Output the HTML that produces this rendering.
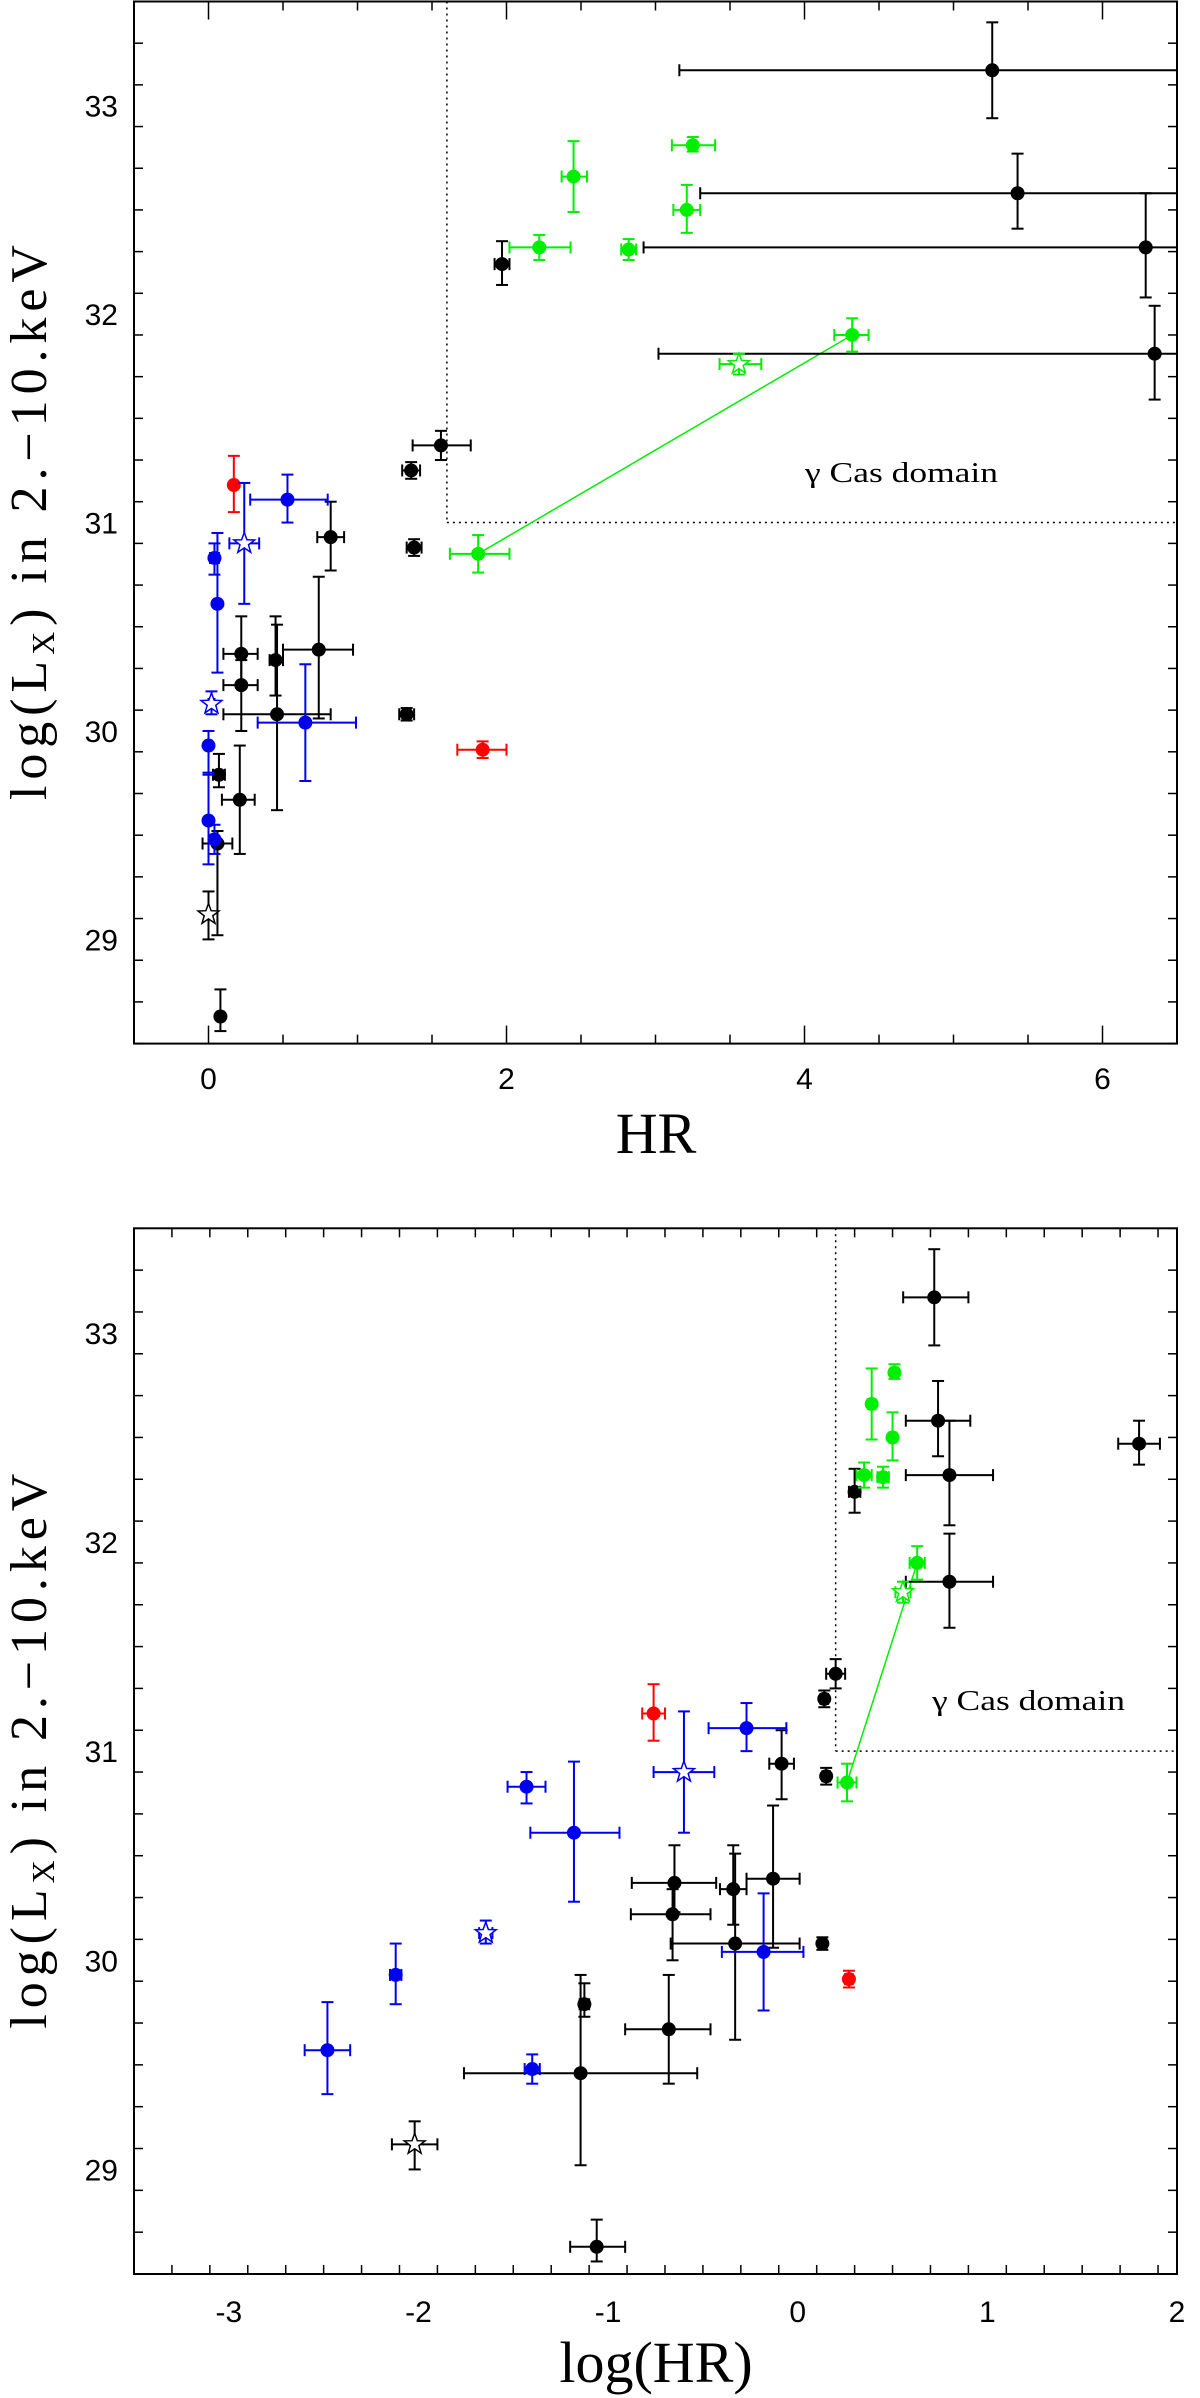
<!DOCTYPE html>
<html><head><meta charset="utf-8"><style>
html,body{margin:0;padding:0;background:#fff}
svg{display:block}
</style></head><body>
<svg id="fig" width="1200" height="2398" viewBox="0 0 1200 2398" xmlns="http://www.w3.org/2000/svg">
<g id="p1"></g>
<g id="p2"></g>
</svg>
<script>
// ---------- TOP PANEL DATA (HR vs log Lx) ----------
const topX    = [5.26,5.43,6.29,6.35,1.97,1.56,1.36,1.38,0.82,0.22,0.22,0.45,0.74,0.46,1.33,0.07,0.21,0.06,0.08,0.00, 0.17,1.84, 0.53,0.04,0.06,0.65,0.00,0.00,0.04,0.24,0.02, 3.25,2.45,3.21,2.22,2.82,4.32,3.56,1.81];
const topY    = [33.17,32.58,32.32,31.81,32.24,31.37,31.25,30.88,30.93,30.37,30.22,30.34,30.39,30.08,30.08,29.79,29.67,29.46,28.63,29.12, 31.18,29.91, 31.11,30.83,30.61,30.04,29.93,29.57,29.48,30.90,30.13, 32.81,32.66,32.50,32.32,32.31,31.90,31.76,30.85];
const topXlo  = [3.16,3.30,2.92,3.02,1.92,1.37,1.30,1.33,0.73,0.10,0.10,0.41,0.50,0.10,1.28,0.03,0.09,-0.04,0.06,0.00, 0.17,1.67, 0.28,0.01,0.04,0.33,0.00,0.00,0.02,0.14,0.00, 3.11,2.37,3.12,2.02,2.77,4.20,3.43,1.62];
const topXhi  = [7.5,7.5,7.5,7.5,2.02,1.76,1.42,1.43,0.91,0.33,0.33,0.50,0.97,0.82,1.38,0.11,0.31,0.16,0.10,0.00, 0.17,2.00, 0.80,0.07,0.08,0.99,0.00,0.00,0.06,0.34,0.04, 3.40,2.54,3.30,2.43,2.87,4.43,3.71,2.02];
const topYlo  = [32.94,32.41,32.08,31.59,32.14,31.30,31.21,30.84,30.77,30.23,30.00,30.17,30.06,29.62,30.05,29.73,29.41,29.02,28.56,29.00, 31.05,29.87, 31.00,30.75,30.28,29.76,29.79,29.36,29.41,30.61,30.08, 32.78,32.49,32.39,32.26,32.26,31.82,31.71,30.76];
const topYhi  = [33.40,32.77,32.58,32.04,32.35,31.44,31.29,30.92,31.10,30.55,30.34,30.55,30.74,30.51,30.11,29.89,29.93,29.52,28.76,29.23, 31.32,29.95, 31.23,30.90,30.95,30.32,30.00,29.80,29.55,31.19,30.19, 32.85,32.83,32.62,32.38,32.36,31.98,31.81,30.94];
const topColor= ["k","k","k","k","k","k","k","k","k","k","k","k","k","k","k","k","k","k","k","k", "r","r", "b","b","b","b","b","b","b","b","b", "g","g","g","g","g","g","g","g"];
const topMark = ["o","o","o","o","o","o","o","o","o","o","o","o","o","o","o","o","o","o","o","s", "o","o", "o","o","o","o","o","o","o","s","s", "o","o","o","o","o","o","s","o"];
const topLink = [38,36];

// ---------- BOTTOM PANEL DATA (log HR vs log Lx) ----------
const botX    = [0.72,0.74,0.80,0.80,1.80,0.30,0.20,0.14,0.15,-0.085,-0.65,-0.66,-0.34,-0.13,-0.33,0.13,-1.125,-0.68,-1.145,-1.06,-2.02, -0.76,0.27, -0.27,-1.43,-1.18,-0.18,-2.12,-2.48,-1.40,-0.60,-1.645, 0.51,0.39,0.50,0.35,0.45,0.63,0.555,0.26];
const botY    = [33.17,32.58,32.32,31.81,32.47,32.24,31.37,31.25,30.88,30.94,30.37,30.22,30.34,30.39,30.08,30.08,29.79,29.67,29.46,28.63,29.12, 31.18,29.91, 31.11,30.83,30.61,30.04,29.93,29.57,29.48,30.90,30.13, 32.81,32.66,32.50,32.32,32.31,31.90,31.76,30.85];
const botXlo  = [0.556,0.57,0.57,0.57,1.69,0.27,0.15,0.12,0.13,-0.15,-0.875,-0.88,-0.41,-0.27,-0.67,0.11,-1.15,-0.91,-1.76,-1.20,-2.14, -0.82,0.25, -0.47,-1.53,-1.41,-0.40,-2.15,-2.60,-1.44,-0.76,-1.68, 0.49,0.37,0.48,0.31,0.42,0.59,0.515,0.21];
const botXhi  = [0.90,0.91,1.03,1.03,1.91,0.33,0.25,0.16,0.17,-0.02,-0.43,-0.46,-0.27,0.01,0.01,0.15,-1.10,-0.46,-0.53,-0.91,-1.90, -0.70,0.29, -0.06,-1.33,-0.94,0.03,-2.09,-2.36,-1.36,-0.44,-1.61, 0.53,0.41,0.52,0.39,0.48,0.67,0.595,0.31];
const botYlo  = [32.94,32.41,32.08,31.59,32.37,32.14,31.30,31.21,30.84,30.77,30.23,30.00,30.17,30.06,29.62,30.05,29.73,29.41,29.02,28.56,29.00, 31.05,29.87, 31.00,30.75,30.28,29.76,29.79,29.36,29.41,30.61,30.08, 32.78,32.49,32.39,32.26,32.26,31.82,31.71,30.76];
const botYhi  = [33.40,32.77,32.58,32.04,32.58,32.35,31.44,31.29,30.92,31.10,30.55,30.34,30.55,30.74,30.51,30.11,29.89,29.93,29.93,28.76,29.23, 31.32,29.95, 31.23,30.90,30.95,30.32,30.08,29.80,29.55,31.19,30.19, 32.85,32.83,32.62,32.38,32.36,31.98,31.81,30.94];
const botColor= ["k","k","k","k","k","k","k","k","k","k","k","k","k","k","k","k","k","k","k","k","k", "r","r", "b","b","b","b","b","b","b","b","b", "g","g","g","g","g","g","g","g"];
const botMark = ["o","o","o","o","o","o","o","o","o","o","o","o","o","o","o","o","o","o","o","o","s", "o","o", "o","o","o","o","o","o","o","s","s", "o","o","o","o","o","o","s","o"];
const botLink = [39,37];

const topXTicks = ["0","2","4","6"];
const botXTicks = ["-3","-2","-1","0","1","2"];
const yTicks = ["29","30","31","32","33"];

const NS="http://www.w3.org/2000/svg";
const COL={k:"#000",r:"#ff0000",b:"#0000ee",g:"#00ee00"};
function el(tag,attrs,parent){const e=document.createElementNS(NS,tag);for(const k in attrs)e.setAttribute(k,attrs[k]);parent.appendChild(e);return e;}

function panel(g,cfg){
  const L=134,R=1177,T=cfg.top,B=cfg.bottom;
  const sx=v=>L+(v-cfg.xmin)/(cfg.xmax-cfg.xmin)*(R-L);
  const sy=v=>B-(v-28.5)/5*(B-T);
  const clip=v=>Math.max(L,Math.min(R,v));
  const fr=el("rect",{x:L,y:T,width:R-L,height:B-T,fill:"none",stroke:"#000","stroke-width":2},g);
  
  
  for(let i=0;i<=25;i++){const v=28.5+i*0.2;const y=sy(v);const major=Math.abs(v-Math.round(v))<1e-6;const len=major?18:9;
    el("line",{x1:L,x2:L+len,y1:y,y2:y,stroke:"#000","stroke-width":1.5},g);
    el("line",{x1:R,x2:R-len,y1:y,y2:y,stroke:"#000","stroke-width":1.5},g);}
  yTicks.forEach(t=>{const tx=el("text",{x:118,y:sy(+t)+11,"text-anchor":"end","font-family":"Liberation Sans, sans-serif","font-size":30},g);tx.textContent=t;
    
    });
  for(let v=cfg.xmin;v<=cfg.xmax+1e-6;v+=cfg.minor){const x=sx(v);const major=Math.abs(v/cfg.major-Math.round(v/cfg.major))<1e-6;const len=major?18:9;
    el("line",{x1:x,x2:x,y1:B,y2:B-len,stroke:"#000","stroke-width":1.5},g);
    el("line",{x1:x,x2:x,y1:T,y2:T+len,stroke:"#000","stroke-width":1.5},g);}
  cfg.xticks.forEach(t=>{const tx=el("text",{x:sx(+t),y:cfg.tickY,"text-anchor":"middle","font-family":"Liberation Sans, sans-serif","font-size":30},g);tx.textContent=t;
    
    });
  const d1=el("line",{x1:sx(cfg.dom),x2:sx(cfg.dom),y1:T,y2:sy(31),stroke:"#000","stroke-width":1.5,"stroke-dasharray":"2,4"},g);
  
  
  const d2=el("line",{x1:sx(cfg.dom),x2:R,y1:sy(31),y2:sy(31),stroke:"#000","stroke-width":1.5,"stroke-dasharray":"2,4"},g);
  
  
  const lab=el("text",{x:cfg.labX,y:cfg.labY,"font-family":"Liberation Serif, serif","font-size":28,textLength:193,lengthAdjust:"spacingAndGlyphs"},g);
  lab.textContent="γ Cas domain";
  
  
  const a=cfg.link[0],b=cfg.link[1];
  const ln=el("line",{x1:sx(cfg.X[a]),y1:sy(cfg.Y[a]),x2:sx(cfg.X[b]),y2:sy(cfg.Y[b]),stroke:COL.g,"stroke-width":1.5},g);
  
  
  for(let i=0;i<cfg.X.length;i++){
    const c=COL[cfg.C[i]];const x=sx(cfg.X[i]),y=sy(cfg.Y[i]);
    const pg=el("g",{},g);
    
    
    const x1=clip(sx(cfg.XL[i])),x2=clip(sx(cfg.XH[i])),y1=sy(cfg.YL[i]),y2=sy(cfg.YH[i]);
    el("line",{x1:x1,x2:x2,y1:y,y2:y,stroke:c,"stroke-width":2},pg);
    el("line",{x1:x,x2:x,y1:y1,y2:y2,stroke:c,"stroke-width":2},pg);
    if(x1>L) el("line",{x1:x1,x2:x1,y1:y-6,y2:y+6,stroke:c,"stroke-width":2},pg);
    if(x2<R) el("line",{x1:x2,x2:x2,y1:y-6,y2:y+6,stroke:c,"stroke-width":2},pg);
    el("line",{x1:x-6,x2:x+6,y1:y1,y2:y1,stroke:c,"stroke-width":2},pg);
    el("line",{x1:x-6,x2:x+6,y1:y2,y2:y2,stroke:c,"stroke-width":2},pg);
    if(cfg.M[i]==="o") el("circle",{cx:x,cy:y,r:7,fill:c},pg);
    else{let p=[];for(let k=0;k<10;k++){const r=k%2?4.5:11;const an=-Math.PI/2+k*Math.PI/5;p.push((x+r*Math.cos(an)).toFixed(1)+","+(y+r*Math.sin(an)).toFixed(1));}
      el("polygon",{points:p.join(" "),fill:"#fff",stroke:c,"stroke-width":1.5},pg);}
  }
  const xt=el("text",{x:656,y:cfg.titleY,"text-anchor":"middle","font-family":"Liberation Serif, serif","font-size":58},g);
  xt.textContent=cfg.xtitle;
  
  
  const cy=(T+B)/2;
  const yt=el("text",{x:0,y:0,"text-anchor":"middle","font-family":"Liberation Serif, serif","font-size":52,transform:`translate(46,${cy}) rotate(-90)`,textLength:555},g);
  yt.innerHTML='log(L<tspan font-size="32" dy="8">X</tspan><tspan dy="-8">) in 2.−10.keV</tspan>';
  
  
}
panel(document.getElementById("p1"),{top:1.5,bottom:1043.6,xmin:-0.5,xmax:6.5,minor:0.5,major:2,xticks:topXTicks,tickY:1089,dom:1.6,labX:805,labY:482,titleY:1153,xtitle:"HR",
  X:topX,Y:topY,XL:topXlo,XH:topXhi,YL:topYlo,YH:topYhi,C:topColor,M:topMark,link:topLink});
panel(document.getElementById("p2"),{top:1228.3,bottom:2274,xmin:-3.5,xmax:2,minor:0.2,major:1,xticks:botXTicks,tickY:2322,dom:0.2,labX:932,labY:1710,titleY:2382,xtitle:"log(HR)",
  X:botX,Y:botY,XL:botXlo,XH:botXhi,YL:botYlo,YH:botYhi,C:botColor,M:botMark,link:botLink});
</script>
</body></html>
